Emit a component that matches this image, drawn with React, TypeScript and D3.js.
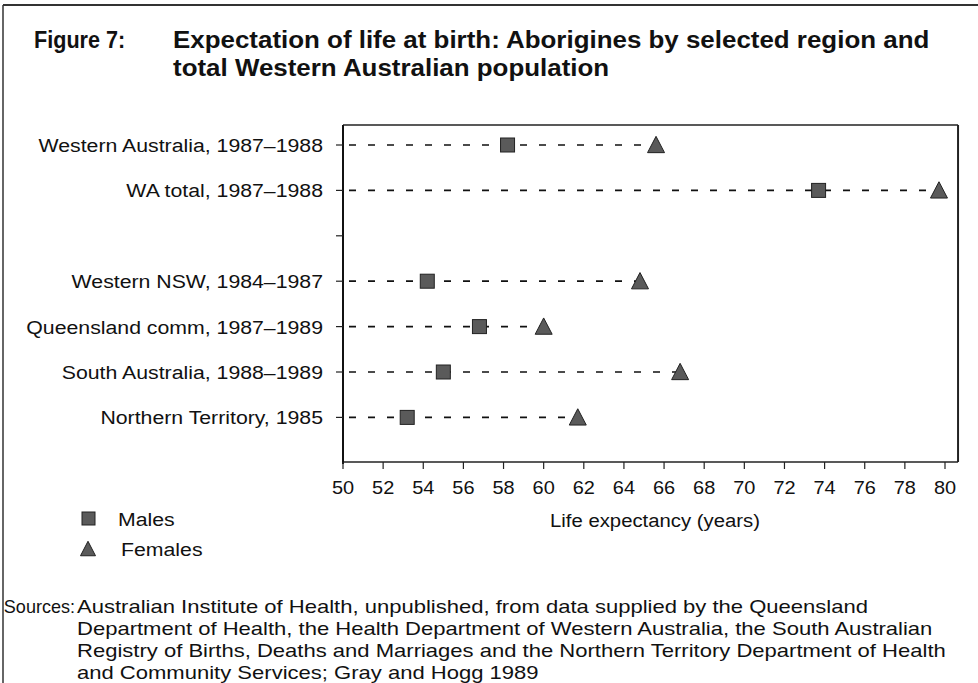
import React from "react";
import * as d3 from "d3";

const categories = [
  "Western Australia, 1987–1988",
  "WA total, 1987–1988",
  "",
  "Western NSW, 1984–1987",
  "Queensland comm, 1987–1989",
  "South Australia, 1988–1989",
  "Northern Territory, 1985",
];
const males: (number | null)[] = [58.2, 73.7, null, 54.2, 56.8, 55.0, 53.2];
const females: (number | null)[] = [65.6, 79.7, null, 64.8, 60.0, 66.8, 61.7];
const xTicks = d3.range(50, 81, 2);
const titleLines = [
  "Expectation of life at birth: Aborigines by selected region and",
  "total Western Australian population",
];
const sourceLines = [
  "Australian Institute of Health, unpublished, from data supplied by the Queensland",
  "Department of Health, the Health Department of Western Australia, the South Australian",
  "Registry of Births, Deaths and Marriages and the Northern Territory Department of Health",
  "and Community Services; Gray and Hogg 1989",
];

const FONT = "'Liberation Sans', Arial, Helvetica, sans-serif";
const MARK = "#5a5a5a";
const INK = "#111";

function T(props: {
  x: number;
  y: number;
  sx?: number;
  size?: number;
  anchor?: "start" | "middle" | "end";
  bold?: boolean;
  children: React.ReactNode;
}) {
  const { x, y, sx = 1.12, size = 19, anchor = "start", bold = false, children } = props;
  return (
    <text
      transform={`translate(${x},${y}) scale(${sx},1)`}
      fontSize={size}
      textAnchor={anchor}
      fontWeight={bold ? "bold" : "normal"}
      fill={INK}
    >
      {children}
    </text>
  );
}

export default function App() {
  const x = d3.scaleLinear().domain([50, 80]).range([343, 945]);
  const y = d3
    .scalePoint<string>()
    .domain(categories.map((c, i) => String(i)))
    .range([145, 417.4]);
  const left = 343;
  const right = x(80.65);
  const top = 125;
  const bottom = 462;

  const tri = (cx: number, cy: number, s = 17) => {
    const h = s * 0.9;
    return `M${cx},${cy - h / 2 - 1} L${cx + s / 2},${cy + h / 2} L${cx - s / 2},${cy + h / 2} Z`;
  };

  return (
    <svg
      width={978}
      height={683}
      style={{ position: "absolute", left: 0, top: 0, background: "#fff" }}
      fontFamily={FONT}
    >
      <rect x={0} y={0} width={978} height={683} fill="#fff" />
      {/* outer frame */}
      <line x1={3} x2={978} y1={5} y2={5} stroke="#333" strokeWidth={2} />
      <line x1={3} x2={3} y1={5} y2={683} stroke="#333" strokeWidth={1.5} />

      {/* title */}
      <T x={34} y={48} size={24} sx={0.9} bold>
        Figure 7:
      </T>
      {titleLines.map((t, i) => (
        <T key={i} x={173} y={48 + i * 28} size={24} sx={1.08} bold>
          {t}
        </T>
      ))}

      {/* plot frame */}
      <line x1={left} x2={right} y1={top} y2={top} stroke="#222" strokeWidth={1.5} />
      <line x1={right} x2={right} y1={top} y2={bottom} stroke="#222" strokeWidth={2} />
      <line x1={left} x2={right} y1={bottom} y2={bottom} stroke="#222" strokeWidth={1.5} />
      <line x1={left} x2={left} y1={top} y2={bottom + 2} stroke="#111" strokeWidth={2} />

      {/* x ticks */}
      {xTicks.map((t) => (
        <g key={t}>
          <line x1={x(t)} x2={x(t)} y1={bottom} y2={bottom + 7} stroke="#222" strokeWidth={1.2} />
          <T x={x(t)} y={bottom + 32} sx={1.05} anchor="middle">
            {t}
          </T>
        </g>
      ))}

      {/* y ticks & labels & rows */}
      {categories.map((c, i) => {
        const yy = y(String(i)) as number;
        const m = males[i];
        const f = females[i];
        return (
          <g key={i}>
            <line x1={left - 7} x2={left} y1={yy} y2={yy} stroke="#222" strokeWidth={1.2} />
            {c && (
              <T x={323} y={yy + 7} anchor="end">
                {c}
              </T>
            )}
            {m != null && f != null && (
              <g>
                <line
                  x1={left + 6}
                  x2={x(f)}
                  y1={yy}
                  y2={yy}
                  stroke="#111"
                  strokeWidth={1.7}
                  strokeDasharray="7,12"
                />
                <rect x={x(m) - 7} y={yy - 7} width={14} height={14} fill={MARK} stroke="#222" strokeWidth={1} />
                <path d={tri(x(f), yy)} fill={MARK} stroke="#222" strokeWidth={1} />
              </g>
            )}
          </g>
        );
      })}

      {/* axis title */}
      <T x={655} y={527} sx={1.07} anchor="middle">
        Life expectancy (years)
      </T>

      {/* legend */}
      <rect x={82} y={512} width={13} height={13} fill={MARK} stroke="#222" strokeWidth={1} />
      <T x={118} y={526}>
        Males
      </T>
      <path d={tri(88, 549, 15)} fill={MARK} stroke="#222" strokeWidth={1} />
      <T x={121} y={556}>
        Females
      </T>

      {/* sources */}
      <T x={75} y={613} sx={0.95} anchor="end">
        Sources:
      </T>
      {sourceLines.map((t, i) => (
        <T key={i} x={77} y={613 + i * 22} sx={1.16}>
          {t}
        </T>
      ))}
    </svg>
  );
}
